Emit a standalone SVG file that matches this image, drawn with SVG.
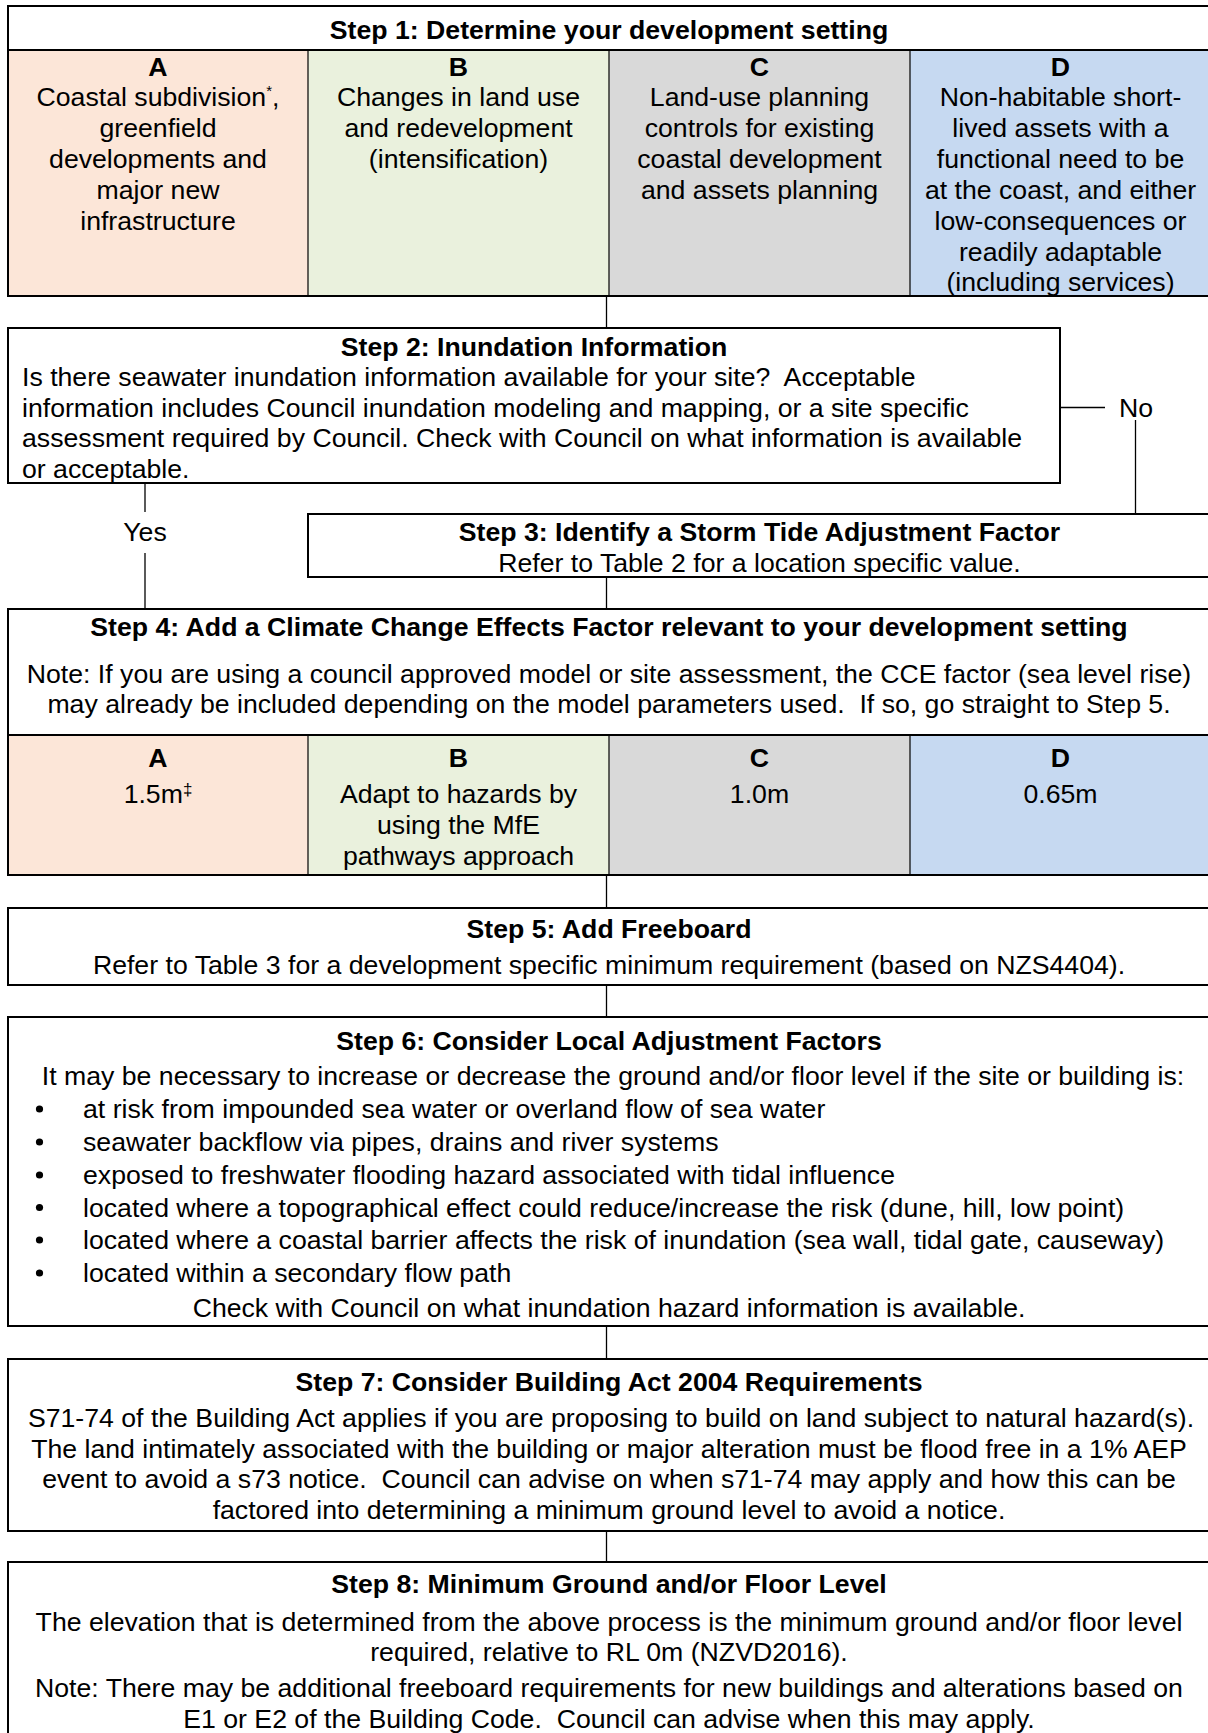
<svg xmlns="http://www.w3.org/2000/svg" width="1208" height="1733" viewBox="0 0 1208 1733">
<style>
text{font-family:"Liberation Sans",Arial,sans-serif;font-size:26.67px;fill:#000;white-space:pre}
.b{font-weight:bold}
.c{text-anchor:middle}
.box{fill:#fff;stroke:#000;stroke-width:2}
.dv{stroke:#000;stroke-width:1.2;fill:none}
.conn{stroke:#000;stroke-width:1.3;fill:none}
.sa{fill:#FCE6D8}.sb{fill:#EAF1DD}.sc{fill:#D9D9D9}.sd{fill:#C6D9F1}
</style>
<rect width="1208" height="1733" fill="#fff"/>
<g id="connectors">
<line class="conn" x1="606.5" y1="296" x2="606.5" y2="328"/>
<line class="conn" x1="1060" y1="407.5" x2="1105" y2="407.5"/>
<line class="conn" x1="1135.5" y1="420" x2="1135.5" y2="514"/>
<line class="conn" x1="145" y1="483" x2="145" y2="512"/>
<line class="conn" x1="145" y1="553" x2="145" y2="609"/>
<line class="conn" x1="606.5" y1="577" x2="606.5" y2="609"/>
<line class="conn" x1="606.5" y1="875" x2="606.5" y2="908"/>
<line class="conn" x1="606.5" y1="985" x2="606.5" y2="1017"/>
<line class="conn" x1="606.5" y1="1326" x2="606.5" y2="1359"/>
<line class="conn" x1="606.5" y1="1531" x2="606.5" y2="1562"/>
<text class="c" x="1136" y="417">No</text>
<text class="c" x="145" y="541">Yes</text>
</g>
<g id="step1">
<rect class="box" x="8" y="6" width="1205" height="290"/>
<rect class="sa" x="9" y="51" width="299" height="244"/>
<rect class="sb" x="308" y="51" width="301" height="244"/>
<rect class="sc" x="609" y="51" width="301" height="244"/>
<rect class="sd" x="910" y="51" width="302" height="244"/>
<line class="box" x1="8" y1="50" x2="1213" y2="50"/>
<line class="box" x1="8" y1="296" x2="1213" y2="296"/>
<line class="dv" x1="308" y1="50" x2="308" y2="296"/>
<line class="dv" x1="609" y1="50" x2="609" y2="296"/>
<line class="dv" x1="910" y1="50" x2="910" y2="296"/>
<text class="b c" x="609" y="39">Step 1: Determine your development setting</text>
<text class="b c" x="158" y="75.5">A</text>
<text class="b c" x="458.5" y="75.5">B</text>
<text class="b c" x="759.5" y="75.5">C</text>
<text class="b c" x="1060.5" y="75.5">D</text>
<text class="c" x="158" y="105.5">Coastal subdivision<tspan font-size="15" dy="-10">*</tspan><tspan dy="10">,</tspan></text>
<text class="c" x="158" y="136.5">greenfield</text>
<text class="c" x="158" y="167.5">developments and</text>
<text class="c" x="158" y="198.5">major new</text>
<text class="c" x="158" y="229.5">infrastructure</text>
<text class="c" x="458.5" y="105.5">Changes in land use</text>
<text class="c" x="458.5" y="136.5">and redevelopment</text>
<text class="c" x="458.5" y="167.5">(intensification)</text>
<text class="c" x="759.5" y="105.5">Land-use planning</text>
<text class="c" x="759.5" y="136.5">controls for existing</text>
<text class="c" x="759.5" y="167.5">coastal development</text>
<text class="c" x="759.5" y="198.5">and assets planning</text>
<text class="c" x="1060.5" y="105.5">Non-habitable short-</text>
<text class="c" x="1060.5" y="136.5">lived assets with a</text>
<text class="c" x="1060.5" y="167.5">functional need to be</text>
<text class="c" x="1060.5" y="198.5">at the coast, and either</text>
<text class="c" x="1060.5" y="229.5">low-consequences or</text>
<text class="c" x="1060.5" y="260.5">readily adaptable</text>
<text class="c" x="1060.5" y="291">(including services)</text>
</g>
<g id="step2">
<rect class="box" x="8" y="328" width="1052" height="155"/>
<text class="b c" x="534" y="355.5">Step 2: Inundation Information</text>
<text x="22" y="386" xml:space="preserve">Is there seawater inundation information available for your site?  Acceptable</text>
<text x="22" y="417">information includes Council inundation modeling and mapping, or a site specific</text>
<text x="22" y="447">assessment required by Council. Check with Council on what information is available</text>
<text x="22" y="477.5">or acceptable.</text>
</g>
<g id="step3">
<rect class="box" x="308" y="514" width="905" height="63"/>
<text class="b c" x="759.5" y="541">Step 3: Identify a Storm Tide Adjustment Factor</text>
<text class="c" x="759.5" y="571.5">Refer to Table 2 for a location specific value.</text>
</g>
<g id="step4">
<rect class="box" x="8" y="609" width="1205" height="266"/>
<rect class="sa" x="9" y="736" width="299" height="138"/>
<rect class="sb" x="308" y="736" width="301" height="138"/>
<rect class="sc" x="609" y="736" width="301" height="138"/>
<rect class="sd" x="910" y="736" width="302" height="138"/>
<line class="box" x1="8" y1="735" x2="1213" y2="735"/>
<line class="box" x1="8" y1="875" x2="1213" y2="875"/>
<line class="dv" x1="308" y1="735" x2="308" y2="875"/>
<line class="dv" x1="609" y1="735" x2="609" y2="875"/>
<line class="dv" x1="910" y1="735" x2="910" y2="875"/>
<text class="b c" x="609" y="636">Step 4: Add a Climate Change Effects Factor relevant to your development setting</text>
<text class="c" x="609" y="682.5">Note: If you are using a council approved model or site assessment, the CCE factor (sea level rise)</text>
<text class="c" x="609" y="713" xml:space="preserve">may already be included depending on the model parameters used.  If so, go straight to Step 5.</text>
<text class="b c" x="158" y="766.5">A</text>
<text class="b c" x="458.5" y="766.5">B</text>
<text class="b c" x="759.5" y="766.5">C</text>
<text class="b c" x="1060.5" y="766.5">D</text>
<text class="c" x="158" y="802.5">1.5m<tspan font-size="17" dy="-8">‡</tspan></text>
<text class="c" x="458.5" y="802.5">Adapt to hazards by</text>
<text class="c" x="458.5" y="833.5">using the MfE</text>
<text class="c" x="458.5" y="864.5">pathways approach</text>
<text class="c" x="759.5" y="802.5">1.0m</text>
<text class="c" x="1060.5" y="802.5">0.65m</text>
</g>
<g id="step5">
<rect class="box" x="8" y="908" width="1205" height="77"/>
<text class="b c" x="609" y="938">Step 5: Add Freeboard</text>
<text class="c" x="609" y="974">Refer to Table 3 for a development specific minimum requirement (based on NZS4404).</text>
</g>
<g id="step6">
<rect class="box" x="8" y="1017" width="1205" height="309"/>
<text class="b c" x="609" y="1049.5">Step 6: Consider Local Adjustment Factors</text>
<text class="c" x="613" y="1085">It may be necessary to increase or decrease the ground and/or floor level if the site or building is:</text>
<g>
<circle cx="39.5" cy="1109" r="3.6"/>
<circle cx="39.5" cy="1142" r="3.6"/>
<circle cx="39.5" cy="1175" r="3.6"/>
<circle cx="39.5" cy="1207.5" r="3.6"/>
<circle cx="39.5" cy="1240" r="3.6"/>
<circle cx="39.5" cy="1273" r="3.6"/>
</g>
<text x="83" y="1118">at risk from impounded sea water or overland flow of sea water</text>
<text x="83" y="1151">seawater backflow via pipes, drains and river systems</text>
<text x="83" y="1184">exposed to freshwater flooding hazard associated with tidal influence</text>
<text x="83" y="1216.5">located where a topographical effect could reduce/increase the risk (dune, hill, low point)</text>
<text x="83" y="1249">located where a coastal barrier affects the risk of inundation (sea wall, tidal gate, causeway)</text>
<text x="83" y="1282">located within a secondary flow path</text>
<text class="c" x="609" y="1316.5">Check with Council on what inundation hazard information is available.</text>
</g>
<g id="step7">
<rect class="box" x="8" y="1359" width="1205" height="172"/>
<text class="b c" x="609" y="1391">Step 7: Consider Building Act 2004 Requirements</text>
<text class="c" x="611" y="1426.5">S71-74 of the Building Act applies if you are proposing to build on land subject to natural hazard(s).</text>
<text class="c" x="609" y="1457.5">The land intimately associated with the building or major alteration must be flood free in a 1% AEP</text>
<text class="c" x="609" y="1488" xml:space="preserve">event to avoid a s73 notice.  Council can advise on when s71-74 may apply and how this can be</text>
<text class="c" x="609" y="1519">factored into determining a minimum ground level to avoid a notice.</text>
</g>
<g id="step8">
<rect class="box" x="8" y="1562" width="1205" height="190"/>
<text class="b c" x="609" y="1593">Step 8: Minimum Ground and/or Floor Level</text>
<text class="c" x="609" y="1630.5">The elevation that is determined from the above process is the minimum ground and/or floor level</text>
<text class="c" x="609" y="1660.5">required, relative to RL 0m (NZVD2016).</text>
<text class="c" x="609" y="1697">Note: There may be additional freeboard requirements for new buildings and alterations based on</text>
<text class="c" x="609" y="1727.5" xml:space="preserve">E1 or E2 of the Building Code.  Council can advise when this may apply.</text>
</g>
</svg>
